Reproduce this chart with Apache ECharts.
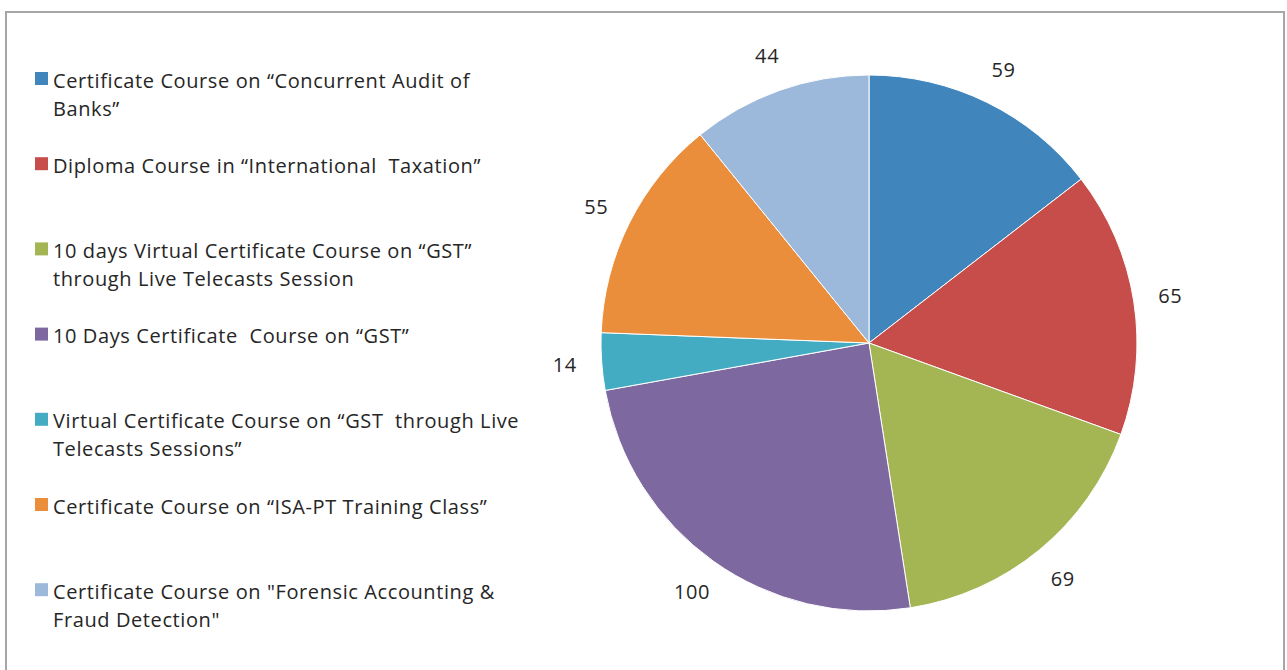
<!DOCTYPE html>
<html>
<head>
<meta charset="utf-8">
<script src="https://cdn.jsdelivr.net/npm/echarts@6/dist/echarts.min.js"></script>
<style>
  html, body { margin: 0; padding: 0; background: #fff; overflow: hidden; }
  #main { width: 1287px; height: 670px; }
  /* the original pdf text is spaced a bit wider */
  #main svg text { letter-spacing: 0.6px; }
</style>
</head>
<body>
<div id="main"></div>
<script>
// course names (line breaks as they wrap in the legend)
var courses = [
    'Certificate Course on \u201cConcurrent Audit of\nBanks\u201d',
    'Diploma Course in \u201cInternational  Taxation\u201d',
    '10 days Virtual Certificate Course on \u201cGST\u201d\nthrough Live Telecasts Session',
    '10 Days Certificate  Course on \u201cGST\u201d',
    'Virtual Certificate Course on \u201cGST  through Live\nTelecasts Sessions\u201d',
    'Certificate Course on \u201cISA-PT Training Class\u201d',
    'Certificate Course on "Forensic Accounting &\nFraud Detection"'
];
var counts = [59, 65, 69, 100, 14, 55, 44];
var colors = ['#4185bd', '#c64d4a', '#a4b553', '#7d68a0', '#44acc2', '#ea8e3b', '#9cb9db'];

var fontName = 'Open Sans';
var chart = echarts.init(document.getElementById('main'), null, { renderer: 'svg' });

var pieData = [];
var labelData = [];
for (var i = 0; i < courses.length; i++) {
    pieData.push({ name: courses[i], value: counts[i], itemStyle: { color: colors[i] } });
    labelData.push({ name: courses[i], value: counts[i] });
}

var option = {
    animation: false,
    graphic: [{
        type: 'rect',
        shape: { x: 6, y: 12, width: 1278, height: 700 },
        style: { fill: 'none', stroke: '#a6a6a6', lineWidth: 2 },
        silent: true
    }],
    legend: {
        orient: 'vertical',
        left: 35,
        top: 66,
        padding: 0,
        itemWidth: 13,
        itemHeight: 56,
        itemGap: 29.2,
        // square sits on the first text line
        icon: 'path://M0,0 M0,6 H13 V19 H0 Z M0,56',
        itemStyle: { borderWidth: 0 },
        selectedMode: false,
        formatter: function (name) {
            return name.indexOf('\n') < 0 ? name + '\n ' : name;
        },
        textStyle: {
            fontFamily: fontName,
            fontSize: 20,
            lineHeight: 28,
            color: '#262626',
            padding: 0
        }
    },
    series: [{
        type: 'pie',
        center: [869, 343],
        radius: 268,
        startAngle: 90,
        clockwise: true,
        silent: true,
        data: pieData,
        itemStyle: { borderColor: '#fff', borderWidth: 1 },
        label: { show: false },
        labelLine: { show: false }
    }, {
        // invisible disc only used to place the value labels
        type: 'pie',
        center: [869, 343],
        radius: [0, 604],
        startAngle: 90,
        clockwise: true,
        silent: true,
        data: labelData,
        itemStyle: { color: 'rgba(0,0,0,0)', borderWidth: 0 },
        label: {
            show: true,
            position: 'inside',
            formatter: '{c}',
            fontFamily: fontName,
            fontSize: 20,
            color: '#262626'
        },
        labelLine: { show: false }
    }]
};

chart.setOption(option);
</script>
</body>
</html>
